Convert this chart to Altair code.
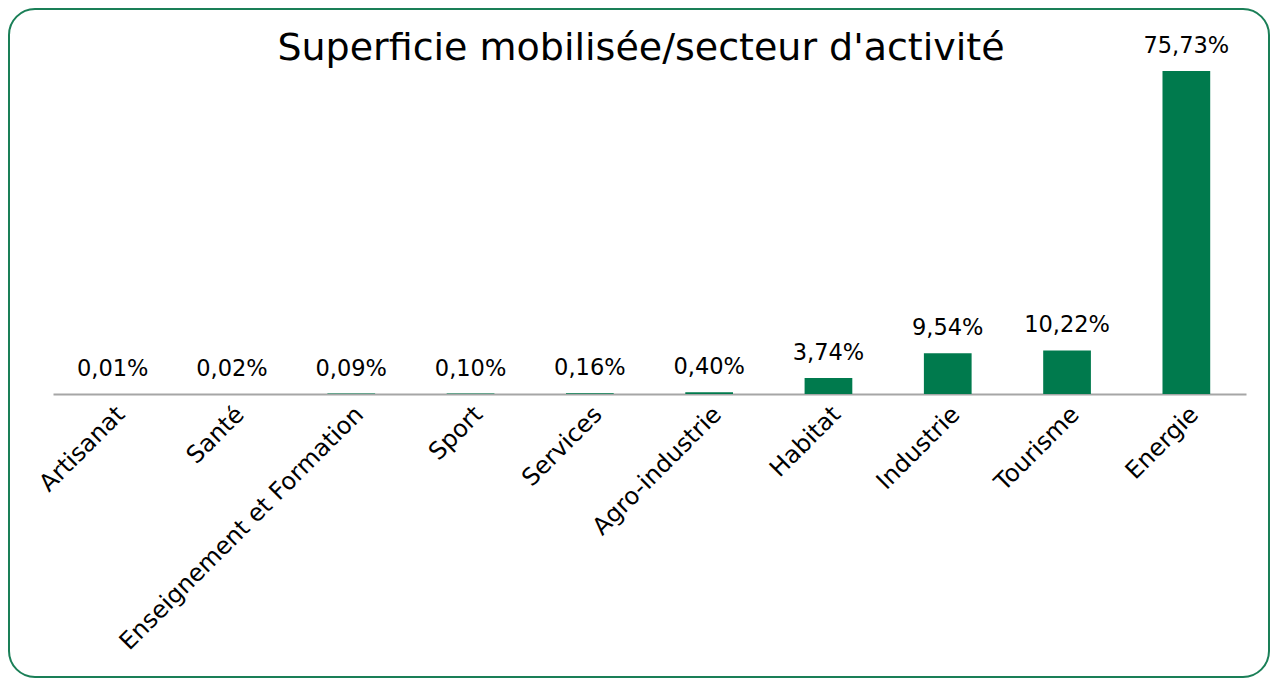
import altair as alt
import pandas as pd

sectors = ["Artisanat", "Santé", "Enseignement et Formation", "Sport", "Services",
           "Agro-industrie", "Habitat", "Industrie", "Tourisme", "Energie"]
shares = [0.01, 0.02, 0.09, 0.10, 0.16, 0.40, 3.74, 9.54, 10.22, 75.73]
labels = ["0,01%", "0,02%", "0,09%", "0,10%", "0,16%", "0,40%", "3,74%", "9,54%", "10,22%", "75,73%"]
title_text = "Superficie mobilisée/secteur d'activité"

df = pd.DataFrame({"sector": sectors, "share": shares, "label": labels})

FONT = "DejaVu Sans"
GREEN = "#007a4d"

x = alt.X("sector:N", sort=sectors,
          scale=alt.Scale(paddingInner=0.6, paddingOuter=0.3),
          axis=alt.Axis(title=None, labelAngle=-45, labelFontSize=24, labelFont=FONT,
                        labelColor="#000000", ticks=False, domainColor="#a6a6a6",
                        domainWidth=2, labelPadding=8, labelLimit=500))
y = alt.Y("share:Q", scale=alt.Scale(domain=[0, 75.73], nice=False), axis=None)

base = alt.Chart(df)
bars = base.mark_bar(color=GREEN).encode(x=x, y=y)
text = base.mark_text(baseline="bottom", dy=-13, fontSize=22.5, font=FONT, color="#000000").encode(
    x=x, y=y, text="label:N")

one = pd.DataFrame({"k": [0]})
border = alt.Chart(one).mark_rect(
    filled=False, stroke="#1a7f57", strokeWidth=2, cornerRadius=26
).encode(x=alt.value(-44), x2=alt.value(1216), y=alt.value(-62), y2=alt.value(606))

title = alt.Chart(one).mark_text(
    fontSize=38, font=FONT, color="#000000", baseline="middle", align="center"
).encode(x=alt.value(588), y=alt.value(-22), text=alt.value(title_text))

chart = alt.layer(border, title, bars, text).properties(
    width=1193, height=323, padding=0, background="white"
).configure_view(stroke=None)

chart.save("out.html", embed_options={"renderer": "svg", "actions": False})
